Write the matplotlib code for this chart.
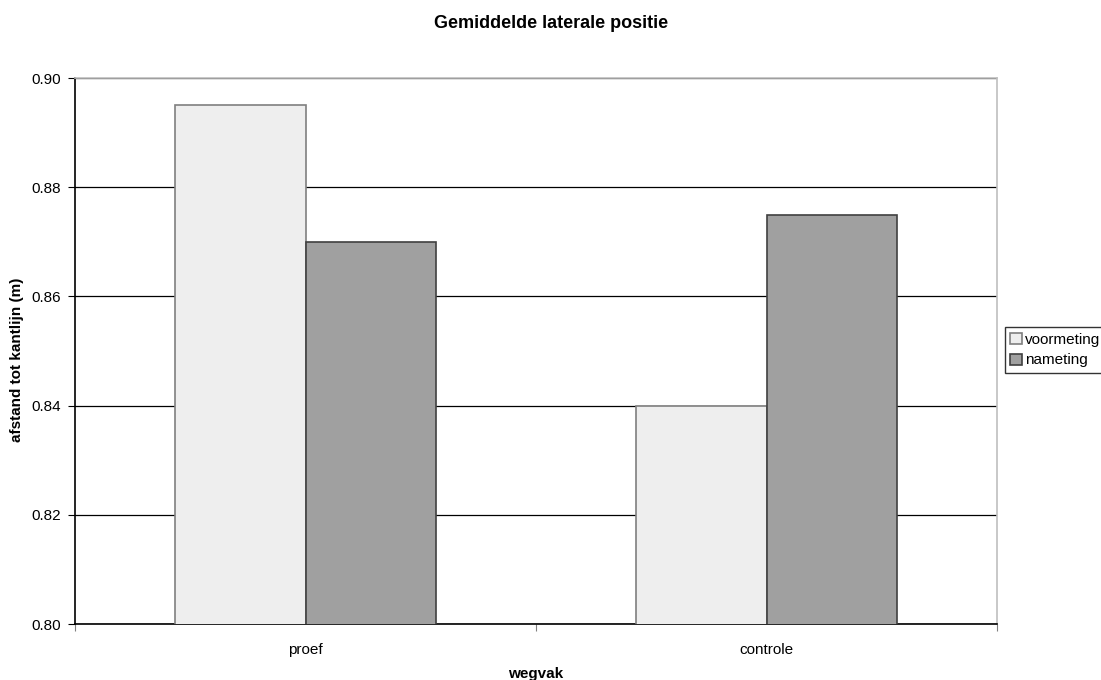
import matplotlib
matplotlib.use("Agg")
import matplotlib.pyplot as plt
import numpy as np

plt.rcParams['font.family'] = ['Liberation Sans', 'DejaVu Sans']

categories = ["proef", "controle"]
series_names = ["voormeting", "nameting"]
voormeting = [0.895, 0.840]
nameting = [0.870, 0.875]
y_ticks = [0.80, 0.82, 0.84, 0.86, 0.88, 0.90]

fig = plt.figure(figsize=(11.01, 6.80), dpi=100)
ax = fig.add_axes([75 / 1101, 1 - 624 / 680, (997 - 75) / 1101, (624 - 78) / 680])

x = np.arange(len(categories))
w = 0.284
ax.bar(x - w / 2, voormeting, width=w, bottom=0, color="#EEEEEE",
       edgecolor="#7F7F7F", linewidth=1.2, label=series_names[0], zorder=3)
ax.bar(x + w / 2, nameting, width=w, bottom=0, color="#A0A0A0",
       edgecolor="#404040", linewidth=1.2, label=series_names[1], zorder=3)

ax.set_ylim(0.80, 0.90)
ax.set_xlim(-0.5, 1.5)
ax.set_yticks(y_ticks)
ax.set_yticklabels([f"{v:.2f}" for v in y_ticks], fontsize=11)
ax.set_xticks([-0.5, 0.5, 1.5], minor=False)
ax.set_xticklabels([])
ax.set_xticks(x, minor=True)
ax.set_xticklabels(categories, minor=True, fontsize=11)
ax.tick_params(axis="x", which="minor", length=0, pad=14)
ax.tick_params(axis="x", which="major", length=5, direction="out", color="#808080")
ax.tick_params(axis="y", length=5, direction="out", pad=5)

ax.yaxis.grid(True, color="black", linewidth=0.9, zorder=0)
ax.set_axisbelow(True)

for side in ("top", "right"):
    ax.spines[side].set_color("#BFBFBF")
    ax.spines[side].set_linewidth(1.2)
for side in ("left", "bottom"):
    ax.spines[side].set_color("black")
    ax.spines[side].set_linewidth(1.2)

fig.text(551 / 1101, 1 - 23 / 680, "Gemiddelde laterale positie",
         ha="center", va="center", fontsize=13, fontweight="bold")
fig.text(536 / 1101, 1 - 674 / 680, "wegvak",
         ha="center", va="center", fontsize=11, fontweight="bold")
fig.text(17 / 1101, 1 - 360 / 680, "afstand tot kantlijn (m)",
         ha="center", va="center", rotation=90, fontsize=11, fontweight="bold")

leg = fig.legend(loc="center left", bbox_to_anchor=(1005 / 1101, 1 - 350 / 680),
                 fontsize=11, frameon=True, fancybox=False, edgecolor="black",
                 handlelength=0.75, handleheight=0.75, handletextpad=0.2,
                 borderpad=0.35, labelspacing=0.45, borderaxespad=0)
leg.get_frame().set_linewidth(1.0)

fig.savefig("out.png", dpi=100, facecolor="white")
